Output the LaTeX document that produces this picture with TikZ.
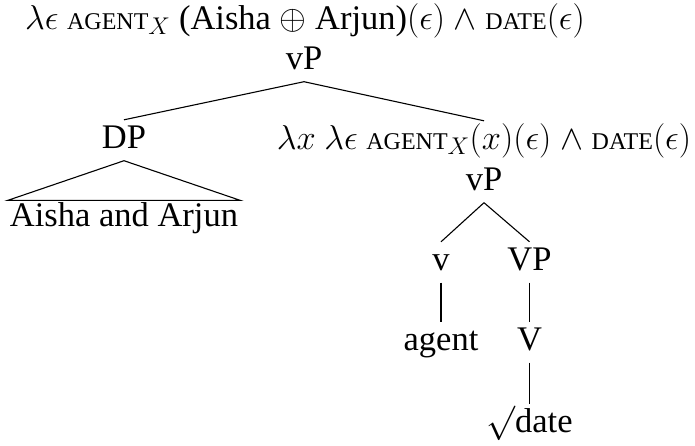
\RequirePackage{fix-cm}
\documentclass[tikz,border=0pt]{standalone}
\usepackage[no-math]{fontspec}
\setmainfont{Liberation Serif}
\newcommand\smc[1]{{\fontsize{24}{26}\selectfont #1}}
\begin{document}
\begin{tikzpicture}[x=1pt,y=-1pt,
  every node/.style={font=\fontsize{34.5}{40}\selectfont},
  cat/.style={anchor=base,inner xsep=2pt,inner ysep=5.5pt,text height=22.5pt,text depth=7pt},
  sem/.style={anchor=base,inner sep=0pt},
  branch/.style={line width=1.1pt}]
\useasboundingbox (0,0) rectangle (695,445);
% semantic annotations
\node[sem] (top) at (305,29) {$\lambda\epsilon$ \smc{AGENT}${}_X$ (Aisha $\oplus$ Arjun)$(\epsilon)$ $\wedge$ \smc{DATE}$(\epsilon)$};
% tree nodes
\node[cat] (vP1) at (304,69) {vP};
\node[cat] (DP) at (124,148) {DP};
\node[cat] (lam) at (484,149) {$\lambda x\ \lambda\epsilon$ \smc{AGENT}${}_X(x)(\epsilon)$ $\wedge$ \smc{DATE}$(\epsilon)$};
\node[anchor=base,inner xsep=2pt,inner ysep=1.5pt] (AA) at (124,226) {Aisha and Arjun};
\node[cat] (vP2) at (484,190) {vP};
\node[cat] (v) at (441,270) {v};
\node[cat] (VP) at (529.5,270) {VP};
\node[cat] (agent) at (441,350) {agent};
\node[cat] (V) at (529.5,350) {V};
\node[cat] (date) at (529.5,432) {$\surd$date};
% branches
\draw[branch] (vP1.south) -- (DP.north);
\draw[branch] (vP1.south) -- (lam.north);
\draw[branch] (DP.south) -- (AA.north west) -- (AA.north east) -- cycle;
\draw[branch] (vP2.south) -- (v.north);
\draw[branch] (vP2.south) -- (VP.north);
\draw[branch] (v.south) -- (agent.north);
\draw[branch] (VP.south) -- (V.north);
\draw[branch] (V.south) -- (date.north);
\end{tikzpicture}
\end{document}
